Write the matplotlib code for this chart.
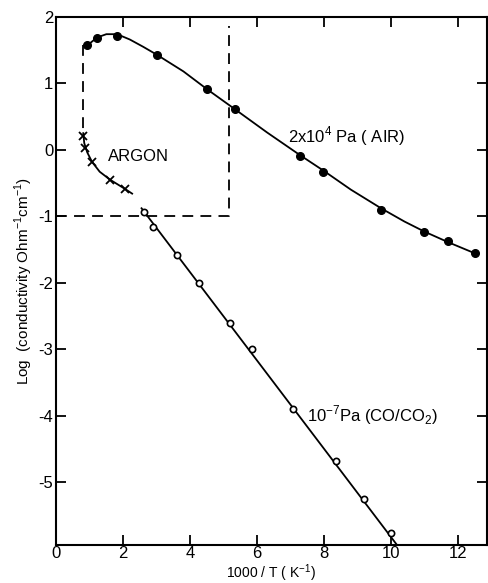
"""Log conductivity vs 1000/T — air, CO/CO2 and argon"""
import matplotlib
matplotlib.use("Agg")
import matplotlib.pyplot as plt

plt.rcParams["font.family"] = ["Liberation Sans", "DejaVu Sans"]
plt.rcParams["mathtext.fontset"] = "custom"
plt.rcParams["mathtext.rm"] = "Liberation Sans"

# --- data ---
# 2x10^4 Pa (air), filled circles
air_x = [0.93, 1.22, 1.82, 3.01, 4.51, 5.34, 7.28, 7.97, 9.70, 10.99, 11.70, 12.51]
air_y = [1.57, 1.68, 1.72, 1.42, 0.91, 0.61, -0.10, -0.33, -0.90, -1.23, -1.38, -1.56]
# smooth curve drawn through the air points
air_curve_x = [0.93, 1.22, 1.50, 1.82, 2.20, 2.60, 3.01, 3.80, 4.51, 5.34, 6.30, 7.28,
               8.00, 8.80, 9.70, 10.40, 10.99, 11.70, 12.51]
air_curve_y = [1.57, 1.69, 1.74, 1.74, 1.66, 1.55, 1.43, 1.18, 0.91, 0.61, 0.26, -0.08,
               -0.32, -0.60, -0.88, -1.08, -1.23, -1.39, -1.56]

# 10^-7 Pa (CO/CO2), open circles
co_x = [2.63, 2.90, 3.61, 4.27, 5.19, 5.85, 7.07, 8.36, 9.19, 10.00]
co_y = [-0.94, -1.16, -1.59, -2.01, -2.61, -3.00, -3.90, -4.69, -5.26, -5.77]
co_line_x = [2.55, 10.18]
co_line_y = [-0.88, -5.95]

# argon, crosses
ar_x = [0.81, 0.87, 1.07, 1.61, 2.06]
ar_y = [0.20, 0.02, -0.18, -0.45, -0.59]
ar_curve_x = [0.81, 0.84, 0.93, 1.07, 1.30, 1.61, 2.06, 2.27]
ar_curve_y = [0.25, 0.10, -0.04, -0.18, -0.33, -0.45, -0.59, -0.66]

# dashed box outline
box_x = [0.81, 0.81]
box_y = [1.57, 0.25]
box2_x = [0.0, 5.17, 5.17]
box2_y = [-1.0, -1.0, 1.87]

fig = plt.figure(figsize=(4.88, 5.83), dpi=100)
ax = fig.add_axes([0.115, 0.065, 0.882, 0.906])

ax.plot(air_curve_x, air_curve_y, color="black", lw=1.3)
ax.plot(air_x, air_y, "o", color="black", ms=5.5)

ax.plot(co_line_x, co_line_y, color="black", lw=1.3)
ax.plot(co_x, co_y, "o", mfc="white", mec="black", mew=1.2, ms=4.5)

ax.plot(ar_curve_x, ar_curve_y, color="black", lw=1.3)
ax.plot(ar_x, ar_y, "x", color="black", ms=6, mew=1.3)

ax.plot(box_x, box_y, color="black", lw=1.3, ls=(0, (6, 4)))
ax.plot(box2_x, box2_y, color="black", lw=1.3, ls=(0, (6, 4)))

ax.text(1.55, -0.1, "ARGON", fontsize=12, va="center")
ax.text(6.93, 0.2, r"2x10$^{4}$ Pa ( AIR)", fontsize=12, va="center")
ax.text(7.49, -3.99, r"10$^{-7}$Pa (CO/CO$_2$)", fontsize=12, va="center")

ax.set_xlim(0, 12.85)
ax.set_ylim(-5.95, 2)
ax.set_xticks([0, 2, 4, 6, 8, 10, 12])
ax.set_yticks([-5, -4, -3, -2, -1, 0, 1, 2])
ax.set_yticklabels(["-5", "-4", "-3", "-2", "-1", "0", "1", "2"])
ax.tick_params(direction="in", length=7, width=1.3, labelsize=12,
               top=True, right=True)
ax.tick_params(axis="x", pad=1)
ax.tick_params(axis="y", pad=2)
for s in ax.spines.values():
    s.set_linewidth(1.5)

ax.set_xlabel(r"1000 / T ( K$^{-1}$)", fontsize=10)
ax.xaxis.set_label_coords(0.5, -0.033)
ax.set_ylabel(r"Log  (conductivity Ohm$^{-1}$cm$^{-1}$)", fontsize=11)
ax.yaxis.set_label_coords(-0.05, 0.5)

plt.savefig("out.png", dpi=100)
plt.close()
